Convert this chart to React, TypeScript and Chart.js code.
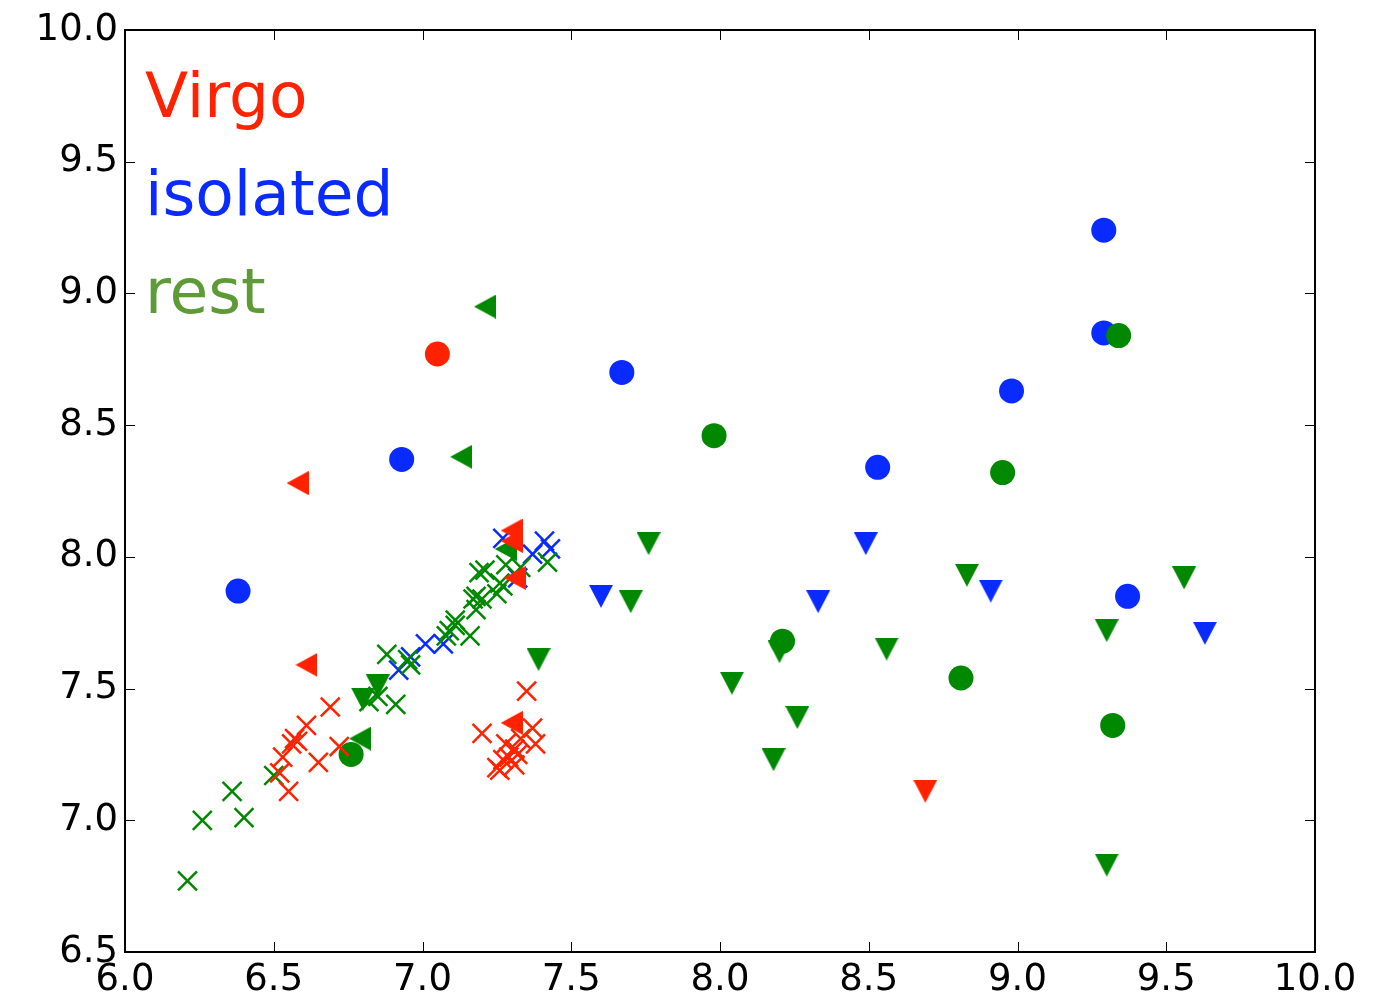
import { useEffect, useRef } from "react";
import { Chart, registerables } from "chart.js";

Chart.register(...registerables);

// Axis ranges and tick labels
const xMin = 6.0;
const xMax = 10.0;
const yMin = 6.5;
const yMax = 10.0;
const tickStep = 0.5;

// Group names shown in the corner key
const groupNames = ["Virgo", "isolated", "rest"];

const RED = "#FF2200";
const BLUE = "#0A2BFF";
const GREEN = "#008800";
const REST_TEXT = "#5E9B36";

// Virgo
const virgoCircleX = [7.05];
const virgoCircleY = [8.77];
const virgoLeftX = [6.58, 6.61, 7.3, 7.3, 7.31, 7.3];
const virgoLeftY = [8.28, 7.59, 8.1, 8.06, 7.92, 7.37];
const virgoDownX = [8.69];
const virgoDownY = [7.11];
const virgoCrossX = [6.69, 6.61, 6.57, 6.58, 6.56, 6.53, 6.52, 6.55, 6.65, 6.72, 7.35, 7.2, 7.37, 7.38, 7.33, 7.31, 7.29, 7.27, 7.25, 7.26, 7.31, 7.32, 7.28];
const virgoCrossY = [7.43, 7.36, 7.31, 7.3, 7.29, 7.24, 7.18, 7.11, 7.22, 7.28, 7.49, 7.33, 7.35, 7.29, 7.31, 7.27, 7.24, 7.23, 7.2, 7.19, 7.21, 7.25, 7.29];

// isolated
const isoCircleX = [6.38, 6.93, 7.67, 8.53, 8.98, 9.29, 9.29, 9.37];
const isoCircleY = [7.87, 8.37, 8.7, 8.34, 8.63, 9.24, 8.85, 7.85];
const isoDownX = [7.6, 8.49, 8.33, 8.91, 9.63];
const isoDownY = [7.85, 8.05, 7.83, 7.87, 7.71];
const isoCrossX = [6.92, 6.96, 7.01, 7.07, 7.27, 7.37, 7.41, 7.43, 7.32];
const isoCrossY = [7.57, 7.62, 7.67, 7.67, 8.07, 8.01, 8.06, 8.03, 7.92];

// rest
const restCircleX = [6.76, 7.98, 8.21, 8.81, 8.95, 9.34, 9.32];
const restCircleY = [7.25, 8.46, 7.68, 7.54, 8.32, 8.84, 7.36];
const restLeftX = [7.21, 7.13, 6.79, 7.28];
const restLeftY = [8.95, 8.38, 7.31, 8.03];
const restDownX = [6.8, 6.85, 7.39, 7.76, 7.7, 8.04, 8.18, 8.2, 8.26, 8.56, 8.83, 9.3, 9.3, 9.56];
const restDownY = [7.46, 7.51, 7.61, 8.05, 7.83, 7.52, 7.23, 7.64, 7.39, 7.65, 7.93, 7.72, 6.83, 7.92];
const restCrossX = [6.21, 6.26, 6.4, 6.36, 6.5, 6.82, 6.85, 6.91, 6.88, 6.96, 6.95, 7.09, 7.11, 7.16, 7.08, 7.11, 7.18, 7.18, 7.17, 7.2, 7.25, 7.19, 7.21, 7.28, 7.33, 7.42, 7.26, 7.27];
const restCrossY = [6.77, 7.0, 7.01, 7.11, 7.17, 7.45, 7.47, 7.44, 7.63, 7.59, 7.61, 7.72, 7.74, 7.7, 7.7, 7.76, 7.8, 7.85, 7.84, 7.84, 7.86, 7.94, 7.95, 7.97, 7.96, 7.98, 7.9, 7.89];

const FONT = "'DejaVu Sans', 'Liberation Sans', sans-serif";

const zip = (xs: number[], ys: number[]) => xs.map((x, i) => ({ x, y: ys[i] }));

function triangleImage(color: string, dir: "down" | "left"): HTMLCanvasElement {
  const c = document.createElement("canvas");
  const w = dir === "down" ? 24 : 22;
  const h = dir === "down" ? 23 : 24;
  c.width = w;
  c.height = h;
  const g = c.getContext("2d")!;
  g.fillStyle = color;
  g.beginPath();
  if (dir === "down") {
    g.moveTo(0, 0);
    g.lineTo(w, 0);
    g.lineTo(w / 2, h);
  } else {
    g.moveTo(0, h / 2);
    g.lineTo(w, 0);
    g.lineTo(w, h);
  }
  g.closePath();
  g.fill();
  return c;
}

function circleSet(xs: number[], ys: number[], color: string) {
  return {
    data: zip(xs, ys),
    pointStyle: "circle",
    pointRadius: 12.5,
    pointBackgroundColor: color,
    pointBorderColor: color,
    pointBorderWidth: 0,
  };
}

function crossSet(xs: number[], ys: number[], color: string) {
  return {
    data: zip(xs, ys),
    pointStyle: "crossRot",
    pointRadius: 13.4,
    pointBackgroundColor: color,
    pointBorderColor: color,
    pointBorderWidth: 2.5,
  };
}

function triSet(xs: number[], ys: number[], color: string, dir: "down" | "left") {
  return {
    data: zip(xs, ys),
    pointStyle: triangleImage(color, dir),
    pointRadius: 12,
    pointBackgroundColor: color,
    pointBorderColor: color,
    pointBorderWidth: 0,
  };
}

const frameAndKey = {
  id: "frameAndKey",
  afterDatasetsDraw(chart: any) {
    const { ctx, chartArea, scales } = chart;
    const { left, right, top, bottom } = chartArea;
    ctx.save();
    ctx.strokeStyle = "#000";
    ctx.lineWidth = 1;
    const tl = 10;
    for (let v = xMin; v <= xMax + 1e-9; v += tickStep) {
      const px = Math.round(scales.x.getPixelForValue(v)) + 0.5;
      ctx.beginPath();
      ctx.moveTo(px, bottom);
      ctx.lineTo(px, bottom - tl);
      ctx.moveTo(px, top);
      ctx.lineTo(px, top + tl);
      ctx.stroke();
    }
    for (let v = yMin; v <= yMax + 1e-9; v += tickStep) {
      const py = Math.round(scales.y.getPixelForValue(v)) + 0.5;
      ctx.beginPath();
      ctx.moveTo(left, py);
      ctx.lineTo(left + tl, py);
      ctx.moveTo(right, py);
      ctx.lineTo(right - tl, py);
      ctx.stroke();
    }
    ctx.lineWidth = 2;
    ctx.strokeRect(left, top, right - left, bottom - top);

    ctx.font = `63px ${FONT}`;
    ctx.textAlign = "left";
    ctx.textBaseline = "alphabetic";
    const colors = [RED, BLUE, REST_TEXT];
    groupNames.forEach((name, i) => {
      ctx.fillStyle = colors[i];
      ctx.fillText(name, left + 20, top + 87 + i * 98);
    });
    ctx.restore();
  },
};

export default function App() {
  const ref = useRef<HTMLCanvasElement | null>(null);

  useEffect(() => {
    if (!ref.current) return;
    const tickFont = { family: FONT, size: 37 };
    const chart = new Chart(ref.current, {
      type: "scatter",
      data: {
        datasets: [
          triSet(virgoLeftX, virgoLeftY, RED, "left"),
          triSet(virgoDownX, virgoDownY, RED, "down"),
          circleSet(virgoCircleX, virgoCircleY, RED),
          crossSet(virgoCrossX, virgoCrossY, RED),
          triSet(restLeftX, restLeftY, GREEN, "left"),
          triSet(restDownX, restDownY, GREEN, "down"),
          circleSet(restCircleX, restCircleY, GREEN),
          crossSet(restCrossX, restCrossY, GREEN),
          triSet(isoDownX, isoDownY, BLUE, "down"),
          circleSet(isoCircleX, isoCircleY, BLUE),
          crossSet(isoCrossX, isoCrossY, BLUE),
        ] as any,
      },
      options: {
        responsive: false,
        animation: false,
        layout: { padding: { top: 30, right: 80, left: 0, bottom: 0 } },
        plugins: {
          legend: { display: false },
          tooltip: { enabled: false },
        },
        scales: {
          x: {
            type: "linear",
            min: xMin,
            max: xMax,
            afterFit: (s: any) => {
              s.height = 53;
            },
            grid: { display: false, drawTicks: false, tickLength: 0 },
            border: { display: false },
            ticks: {
              stepSize: tickStep,
              autoSkip: false,
              maxRotation: 0,
              padding: 6,
              color: "#000",
              font: tickFont,
              callback: (v: any) => Number(v).toFixed(1),
            },
          },
          y: {
            type: "linear",
            min: yMin,
            max: yMax,
            afterFit: (s: any) => {
              s.width = 125;
            },
            grid: { display: false, drawTicks: false, tickLength: 0 },
            border: { display: false },
            ticks: {
              stepSize: tickStep,
              autoSkip: false,
              padding: 7,
              color: "#000",
              font: tickFont,
              callback: (v: any) => Number(v).toFixed(1),
            },
          },
        },
      },
      plugins: [frameAndKey],
    });
    return () => chart.destroy();
  }, []);

  return (
    <div style={{ position: "fixed", left: 0, top: 0, width: 1395, height: 1005, background: "#fff" }}>
      <canvas ref={ref} width={1395} height={1005} style={{ display: "block" }} />
    </div>
  );
}
